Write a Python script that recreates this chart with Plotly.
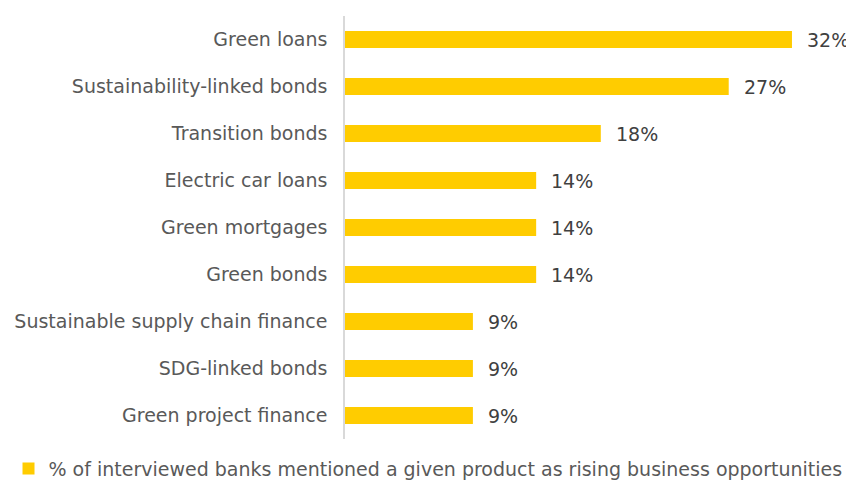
import plotly.graph_objects as go

products = [
    "Green loans",
    "Sustainability-linked bonds",
    "Transition bonds",
    "Electric car loans",
    "Green mortgages",
    "Green bonds",
    "Sustainable supply chain finance",
    "SDG-linked bonds",
    "Green project finance",
]
share = [31.8, 27.3, 18.2, 13.6, 13.6, 13.6, 9.1, 9.1, 9.1]
share_labels = ["32%", "27%", "18%", "14%", "14%", "14%", "9%", "9%", "9%"]
series_name = "% of interviewed banks mentioned a given product as rising business opportunities"

FONT = "DejaVu Sans"

fig = go.Figure()
fig.add_trace(go.Bar(
    name=series_name,
    y=products,
    x=share,
    orientation="h",
    marker=dict(color="#FFCC00", line=dict(width=0)),
    hoverinfo="skip",
))

for p, v, lab in zip(products, share, share_labels):
    fig.add_annotation(
        x=v, y=p, text=lab, showarrow=False,
        xanchor="left", xshift=13,
        font=dict(family=FONT, size=19, color="#404040"),
    )

# page has an 8px body margin, so the figure is a little smaller than the window
fig.update_layout(
    width=846,
    height=473,
    plot_bgcolor="white",
    paper_bgcolor="white",
    bargap=0.64,
    margin=dict(l=337, r=3, t=8, b=42, autoexpand=False),
    showlegend=True,
    legend=dict(
        orientation="h",
        x=-0.665, xanchor="left",
        y=-0.025, yanchor="top",
        font=dict(family=FONT, size=19, color="#595959"),
        itemwidth=30,
    ),
)
fig.update_xaxes(range=[0, 36], visible=False)
fig.update_yaxes(
    autorange="reversed",
    showline=True, linecolor="#D9D9D9", linewidth=1.5,
    ticks="", ticklabelstandoff=12,
    tickfont=dict(family=FONT, size=19, color="#595959"),
    showgrid=False,
)

fig.write_html("out.html")
